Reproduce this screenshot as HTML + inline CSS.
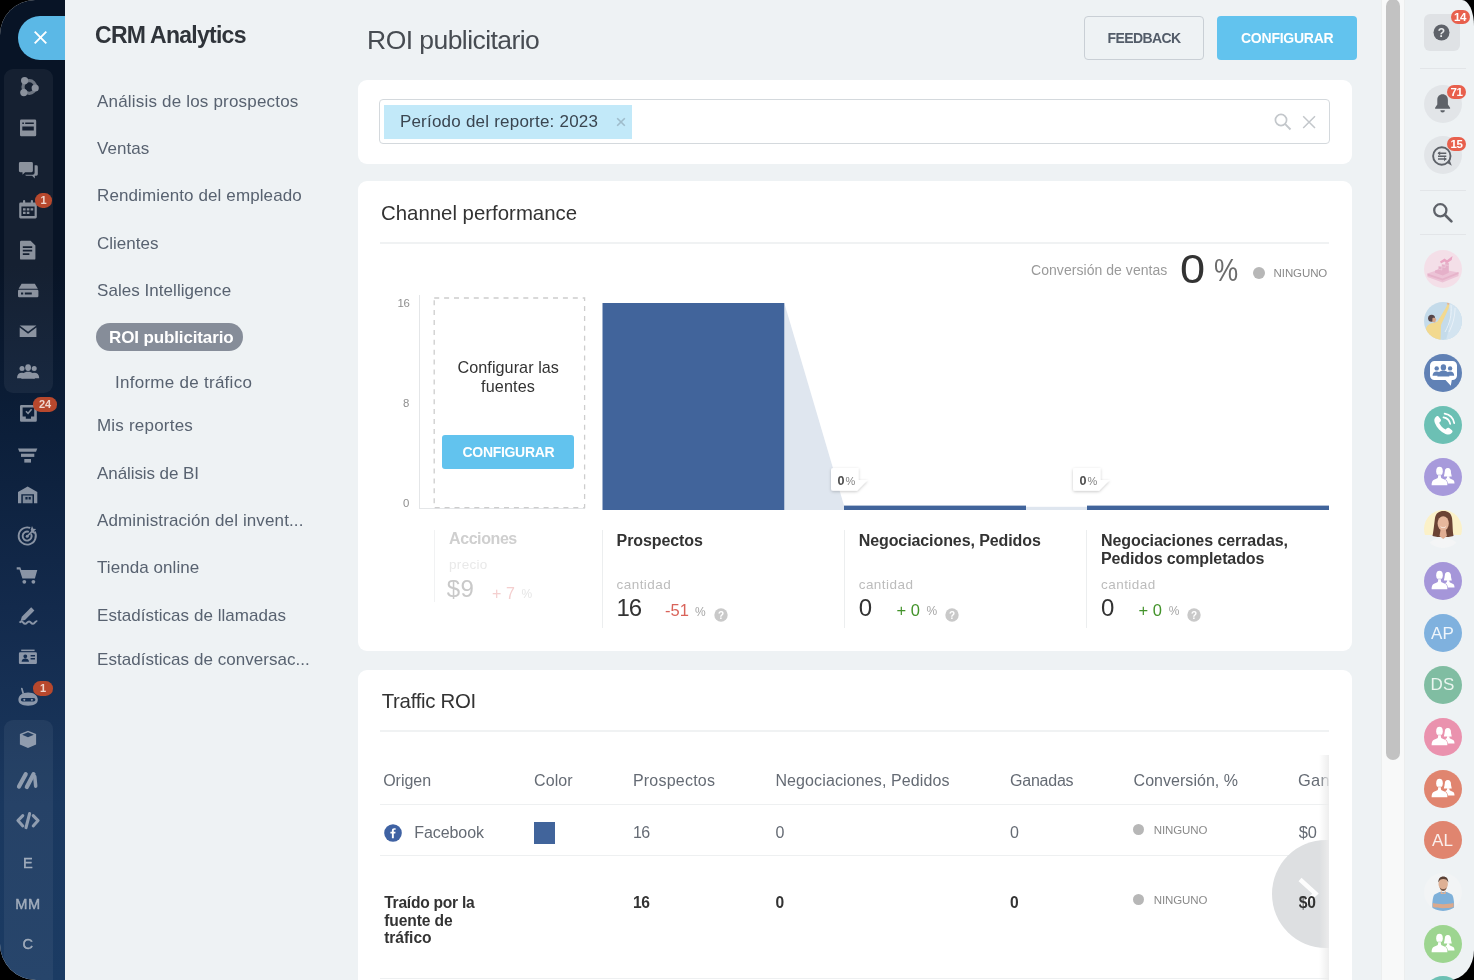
<!DOCTYPE html>
<html lang="es">
<head>
<meta charset="utf-8">
<title>CRM Analytics - ROI publicitario</title>
<style>
*{box-sizing:border-box;margin:0;padding:0}
html,body{width:1474px;height:980px;overflow:hidden;background:#000;font-family:"Liberation Sans",sans-serif;}
#app{position:absolute;left:0;top:0;width:1474px;height:980px;overflow:hidden;background:#eef2f4;will-change:transform;border-radius:35px 12px 25px 36px / 35px 26px 30px 36px;}
.abs{position:absolute}
.t{position:absolute;white-space:nowrap;line-height:1;}
#side{position:absolute;left:0;top:0;width:65px;height:980px;background:linear-gradient(180deg,#081426 0%,#081426 27%,#0c1f3a 44.5%,#132a4c 62%,#1a385f 82%,#1b3b63 100%);}
.grp{position:absolute;background:rgba(255,255,255,.055);border-radius:9px;}
.ico{position:absolute;fill:#8f949d;}
.badge{position:absolute;background:#b7482d;color:#efd6ce;font-weight:bold;font-size:11px;line-height:14.600px;height:14.600px;border-radius:7.300px;text-align:center;}
.panel{position:absolute;background:#fff;border-radius:9px;}
.hr{position:absolute;height:2px;background:#f0f2f3;}
.vr{position:absolute;width:1px;background:#eceeef;}
.av{position:absolute;width:38px;height:38px;border-radius:50%;overflow:hidden;}
.rb{position:absolute;background:#e8604d;color:#fff;font-weight:bold;font-size:11.500px;letter-spacing:-.3px;line-height:14px;height:14px;border-radius:7px;text-align:center;}
</style>
</head>
<body>
<div id="app">
<div id="side">
<div class="grp" style="left:4px;top:68.5px;width:49px;height:324px;"></div>
<div class="grp" style="left:4px;top:719.5px;width:49px;height:300px;"></div>
<!-- close button -->
<div class="abs" style="left:18px;top:16px;width:47px;height:44px;background:#5bb8e6;border-radius:22px 0 0 22px;"></div>
<svg class="abs" style="left:32.900px;top:30.400px" width="15" height="15" viewBox="0 0 15 15"><path d="M1.700 1.700L13.300 13.300M13.300 1.700L1.700 13.300" stroke="#fff" stroke-width="1.900" fill="none"/></svg>
<svg class="abs" style="left:0;top:0;opacity:.66" width="65" height="980" viewBox="0 0 65 980" fill="#c8cdd6">
<!-- 1 collab -->
<g>
<circle cx="29.3" cy="87" r="6.3" fill="none" stroke="#c8cdd6" stroke-width="3.2" opacity=".75"/>
<circle cx="24.6" cy="80.6" r="3.6"/><circle cx="35.2" cy="88" r="3.6"/><circle cx="23.8" cy="92.6" r="3.6"/>
</g>
<!-- 2 feed -->
<path d="M21.3 119.6h13.6a1.3 1.3 0 0 1 1.3 1.3v14a1.3 1.3 0 0 1-1.3 1.3H21.3a1.3 1.3 0 0 1-1.3-1.3v-14a1.3 1.3 0 0 1 1.3-1.3zM22.300 122.400v1.500h1.600v-1.500zM25.200 122.400v1.500h8.600v-1.500zM22.300 126.400v4.200h11.500v-4.200z" fill-rule="evenodd"/>
<!-- 3 chat -->
<path d="M20.3 162h11.2a1.4 1.4 0 0 1 1.4 1.4v7.4a1.4 1.4 0 0 1-1.4 1.4h-6.4l-2.6 2.6v-2.6h-2.2a1.4 1.4 0 0 1-1.4-1.4v-7.4a1.4 1.4 0 0 1 1.4-1.4z"/>
<path d="M34.6 165.3h1.8a1.4 1.4 0 0 1 1.4 1.4v7.6a1.4 1.4 0 0 1-1.4 1.4h-1.6v2.7l-2.7-2.7h-5.6a1.4 1.4 0 0 1-1.3-1h7.4a2 2 0 0 0 2-2z"/>
<!-- 4 calendar -->
<path d="M20.6 202.6h14.8a1.4 1.4 0 0 1 1.4 1.4v13a1.4 1.4 0 0 1-1.4 1.4H20.6a1.4 1.4 0 0 1-1.4-1.4v-13a1.4 1.4 0 0 1 1.4-1.4zM21.4 206.6v9.4h13.2v-9.4zM23 208.3h2.6v2.2H23zM26.8 208.3h2.6v2.2h-2.6zM30.6 208.3h2.6v2.2h-2.6zM23 211.8h2.6v2.2H23zM26.8 211.8h2.6v2.2h-2.6z" fill-rule="evenodd"/>
<rect x="23" y="200" width="2.2" height="4" rx="1"/><rect x="30.8" y="200" width="2.2" height="4" rx="1"/>
<!-- 5 doc -->
<path d="M21.2 240.8h9.4l4.8 4.8v12.8a1.2 1.2 0 0 1-1.2 1.2h-13a1.2 1.2 0 0 1-1.2-1.2v-16.4a1.2 1.2 0 0 1 1.2-1.2zM22.8 246.2v1.9h9.4v-1.9zM22.8 249.7v1.9h9.4v-1.9zM22.8 253.2v1.9h6.6v-1.9z" fill-rule="evenodd"/>
<!-- 6 drive -->
<path d="M21.6 283.8h13.2l3 5H18.6z"/>
<path d="M19.2 289.8h18a1.2 1.2 0 0 1 1.2 1.2v5a1.2 1.2 0 0 1-1.2 1.2h-18a1.2 1.2 0 0 1-1.2-1.2v-5a1.2 1.2 0 0 1 1.2-1.2zM21 292.5v2h2.2v-2zM24.8 292.5v2h7v-2z" fill-rule="evenodd"/>
<!-- 7 mail -->
<path d="M19.7 325.6h16.7l-8.35 6.2z"/><path d="M19.7 327.6l8.35 6.2 8.35-6.2v9.4H19.7z"/>
<!-- 8 group -->
<g>
<circle cx="22" cy="368.6" r="2.5"/><path d="M17 378.2c0-3.6 2-5.4 5-5.4 1.2 0 2.2.3 3 .9l-1.6 4.5z"/>
<circle cx="34.2" cy="368.6" r="2.5"/><path d="M39.2 378.2c0-3.6-2-5.4-5-5.4-1.2 0-2.2.3-3 .9l1.6 4.5z"/>
<ellipse cx="28.1" cy="367.6" rx="2.9" ry="3.4"/><path d="M21.3 378.8c.2-4.8 2.6-7 6.8-7s6.600 2.200 6.800 7z"/>
</g>
<!-- 9 tasks -->
<path d="M21.2 405h14.400a1.200 1.200 0 0 1 1.200 1.200v14.400a1.200 1.200 0 0 1-1.200 1.200H21.200a1.200 1.200 0 0 1-1.200-1.200v-14.400a1.200 1.200 0 0 1 1.200-1.200zM22.600 407.600v8.800h3.200v2.400h5.200v-2.400h3.200v-8.800zM25.400 411.800l1.100-1.100 1.500 1.500 3-3.400 1.200 1-4.100 4.700z" fill-rule="evenodd"/>
<!-- 10 funnel -->
<path d="M18 448.400h19.300l-1.300 3.300H19.300z"/><rect x="21" y="453.700" width="13.300" height="3.200"/><rect x="24.300" y="459" width="6.700" height="3.600"/>
<!-- 11 warehouse -->
<path d="M27.650 486.500l9.650 5.500v11.200h-3.300v-9h-12.700v9h-3.300v-11.200z"/>
<path d="M22.800 495.600h9.700v7.600h-9.700zM25.400 497v2.600h2.200v-2.600zM28.600 497v2.600h2.200v-2.600z" fill-rule="evenodd" opacity=".9"/>
<!-- 12 target -->
<g fill="none" stroke="#c8cdd6" stroke-width="1.900">
<path d="M34.600 531.500a8.600 8.600 0 1 1-4.400-3.600"/><path d="M31 533.800a4.500 4.500 0 1 1-2.200-1.900"/><path d="M27.200 536.200l5.600-5.600" stroke-width="1.600"/>
</g>
<path d="M32 526l1.300 2.700 2.900.4-2.100 2 .5 2.900-2.600-1.400-1.300-2.800z" />
<circle cx="27.200" cy="536.300" r="1.500"/>
<!-- 13 cart -->
<path d="M16.700 567.200h3.600l1 2.800h16l-2.400 8.600H22.400l-2.900-9.200h-2.800z"/><circle cx="24.300" cy="581.800" r="1.900"/><circle cx="33.400" cy="581.800" r="1.900"/>
<!-- 14 sign -->
<path d="M31.200 607.300l3.200 3.200-9.400 9.400-4.400 1.200 1.200-4.400z"/>
<path d="M19.500 622.600c1.500-1.600 2.600-1.600 3.800 0s2.400 1.600 3.800 0 2.600-1.600 3.800 0 2.400 1.600 3.800 0 2-1.400 2.400-1" fill="none" stroke="#c8cdd6" stroke-width="2"/>
<!-- 15 card -->
<rect x="21.200" y="649.600" width="13.400" height="1.500"/>
<path d="M20.100 652.200h15.600a1.200 1.200 0 0 1 1.200 1.200v9.400a1.200 1.200 0 0 1-1.200 1.200H20.100a1.200 1.200 0 0 1-1.200-1.200v-9.400a1.200 1.200 0 0 1 1.200-1.200zM25.300 654.400a1.900 1.900 0 1 0 .01 0zM21.600 661.800c.2-2.400 1.500-3.300 3.700-3.300s3.500.9 3.700 3.300zM30.600 655v1.600h4.400v-1.600zM30.600 658v1.600h4.400v-1.600z" fill-rule="evenodd"/>
<!-- 16 robot -->
<path d="M28.100 692.400c5.600 0 9.700 2.800 9.700 7.200 0 4-3.200 6.100-9.700 6.100s-9.700-2.100-9.700-6.100c0-4.400 4.100-7.200 9.700-7.200zM22.600 698a1.300 1.300 0 0 0 0 3.600h11a1.300 1.300 0 0 0 0-3.600zM24.300 698.800a1 1 0 1 1-.01 0zM31.900 698.800a1 1 0 1 1-.01 0z" fill-rule="evenodd"/>
<path d="M21.800 688.600l1.300 4.400" stroke="#c8cdd6" stroke-width="1.700" stroke-linecap="round" fill="none"/>
<!-- 17 cube -->
<path d="M28 730.800l8.100 3.300v10.400l-8.100 3.500-8.100-3.500v-10.400zM28 732.300l-5.900 2.400 5.900 2.500 5.900-2.500z" fill-rule="evenodd"/>
<!-- 18 // -->
<path d="M19 786.600l6.700-12.400M26.800 787l6.700-12.800" fill="none" stroke="#c8cdd6" stroke-width="4.200" stroke-linecap="round"/><path d="M34.800 776.600l.9 9.600" fill="none" stroke="#c8cdd6" stroke-width="3.500" stroke-linecap="round"/>
<!-- 19 code -->
<path d="M22.800 815.600l-4.900 5 4.900 5.300M33.200 815.600l4.900 5-4.900 5.300" fill="none" stroke="#c8cdd6" stroke-width="3" stroke-linecap="round" stroke-linejoin="round"/><path d="M29.600 813.600l-3.600 14" fill="none" stroke="#c8cdd6" stroke-width="3.100" stroke-linecap="round"/>
</svg>
<span class="t" style="left:23px;top:855.700px;font-size:14.600px;color:rgba(200,205,214,.7);-webkit-text-stroke:.4px rgba(200,205,214,.7);">E</span>
<span class="t" style="left:15.200px;top:896.600px;font-size:14.600px;color:rgba(200,205,214,.7);-webkit-text-stroke:.4px rgba(200,205,214,.7);letter-spacing:.6px">MM</span>
<span class="t" style="left:22.600px;top:936.900px;font-size:14.600px;color:rgba(200,205,214,.7);-webkit-text-stroke:.4px rgba(200,205,214,.7);">C</span>
<div class="badge" style="left:34.800px;top:193px;width:17.400px;">1</div>
<div class="badge" style="left:33px;top:397.200px;width:24px;">24</div>
<div class="badge" style="left:33.300px;top:681px;width:19.500px;">1</div>
</div>


<!-- header buttons -->
<div class="abs" style="left:1084px;top:16px;width:120px;height:44px;border:1px solid #c9cfd5;border-radius:4px;"></div>
<div class="abs" style="left:1217px;top:16px;width:140px;height:44px;background:#62c3ee;border-radius:4px;"></div>
<!-- filter panel -->
<div class="panel" style="left:358px;top:79.5px;width:994px;height:84px;"></div>
<div class="abs" style="left:379px;top:99px;width:951px;height:45px;border:1px solid #d4d9dd;border-radius:4px;"></div>
<div class="abs" style="left:384.4px;top:104.5px;width:247.5px;height:34.5px;background:#c2e9f9;"></div>
<!-- chart panel -->
<div class="panel" style="left:358px;top:180.5px;width:994px;height:470.5px;"></div>
<div class="hr" style="left:380px;top:241.5px;width:949px;"></div>
<!-- traffic panel -->
<div class="panel" style="left:358px;top:669.5px;width:994px;height:330px;"></div>
<div class="hr" style="left:380px;top:730px;width:949px;"></div>
<!-- scrollbar -->
<div class="abs" style="left:1381px;top:0;width:24px;height:980px;background:#f8f9f9;border-left:1px solid #eceeee;border-right:1px solid #eceeee;"></div>
<div class="abs" style="left:1386px;top:-1px;width:13.600px;height:761px;background:#c2c2c2;border-radius:7px;"></div>
<!-- menu pill -->
<div class="abs" style="left:96px;top:323.200px;width:147px;height:28px;border-radius:14px;background:#868d99;"></div>
<!-- filter icons -->
<svg class="abs" style="left:614.500px;top:116px" width="12" height="12" viewBox="0 0 12 12"><path d="M2.200 2.200l7.600 7.600M9.800 2.200l-7.600 7.600" stroke="#9fbccb" stroke-width="1.600" fill="none"/></svg>
<svg class="abs" style="left:1272px;top:111px" width="22" height="22" viewBox="0 0 22 22"><circle cx="9" cy="9" r="5.600" fill="none" stroke="#c3c7cb" stroke-width="1.700"/><path d="M13.200 13.200l5.300 5.300" stroke="#c3c7cb" stroke-width="1.900" fill="none"/></svg>
<svg class="abs" style="left:1300px;top:113px" width="18" height="18" viewBox="0 0 18 18"><path d="M3.200 3.200l11.800 11.800M15 3.200l-11.800 11.800" stroke="#c3c7cb" stroke-width="1.500" fill="none"/></svg>
<!-- chart -->
<div class="abs" style="left:419px;top:295px;width:1px;height:214px;background:#e4e6e8;"></div>
<div class="abs" style="left:419px;top:508px;width:166px;height:1px;background:#e4e6e8;"></div>
<svg class="abs" style="left:430px;top:294px" width="160" height="218" viewBox="430 294 160 218"><rect x="434.200" y="298" width="150.400" height="209.600" fill="none" stroke="#cdcdcd" stroke-width="1.300" stroke-dasharray="5 4.900"/></svg>
<div class="abs" style="left:442px;top:435px;width:132px;height:34px;background:#62c3ee;border-radius:3px;"></div>
<svg class="abs" style="left:600px;top:300px" width="732" height="212" viewBox="600 300 732 212">
<path d="M784.300 303L844 505.600V510H784.300z" fill="#dfe6ef"/>
<rect x="602.500" y="303" width="181.800" height="207" fill="#41649b"/>
<rect x="844" y="505.600" width="182" height="4.400" fill="#41649b"/>
<rect x="1026" y="506.800" width="61" height="3.200" fill="#dfe6ef"/>
<rect x="1087" y="505.600" width="242" height="4.400" fill="#41649b"/>
</svg>
<!-- 0% labels -->
<svg class="abs" style="left:822px;top:460px;overflow:visible" width="60" height="40" viewBox="822 460 60 40"><defs><filter id="sh" x="-30%" y="-30%" width="160%" height="170%"><feDropShadow dx="0" dy="1" stdDeviation="1.600" flood-color="#000" flood-opacity=".22"/></filter></defs><path d="M833 468h25.500v12h9l-10.500 10.800h-24a2 2 0 0 1-2-2v-18.800a2 2 0 0 1 2-2z" fill="#fff" filter="url(#sh)"/></svg>
<svg class="abs" style="left:1064px;top:460px;overflow:visible" width="60" height="40" viewBox="1064 460 60 40"><path d="M1075 468h25.500v12h9l-10.500 10.800h-24a2 2 0 0 1-2-2v-18.800a2 2 0 0 1 2-2z" fill="#fff" filter="url(#sh)"/></svg>
<!-- conversion dot -->
<div class="abs" style="left:1252.700px;top:266.800px;width:12px;height:12px;border-radius:50%;background:#b7b7b7;"></div>
<!-- metric dividers -->
<div class="vr" style="left:433.500px;top:530px;height:72px;background:#f1f2f3"></div>
<div class="vr" style="left:601.500px;top:530px;height:97.500px;"></div>
<div class="vr" style="left:843.700px;top:530px;height:97.500px;"></div>
<div class="vr" style="left:1086px;top:530px;height:97.500px;"></div>
<!-- help icons -->
<svg class="abs" style="left:713.600px;top:608.200px" width="14" height="14" viewBox="0 0 14 14"><circle cx="7" cy="7" r="6.700" fill="#c9c9c9"/><text x="7" y="10.600" text-anchor="middle" font-family="Liberation Sans" font-weight="bold" font-size="10" fill="#fff">?</text></svg>
<svg class="abs" style="left:945px;top:608.200px" width="14" height="14" viewBox="0 0 14 14"><circle cx="7" cy="7" r="6.700" fill="#c9c9c9"/><text x="7" y="10.600" text-anchor="middle" font-family="Liberation Sans" font-weight="bold" font-size="10" fill="#fff">?</text></svg>
<svg class="abs" style="left:1187px;top:608.200px" width="14" height="14" viewBox="0 0 14 14"><circle cx="7" cy="7" r="6.700" fill="#c9c9c9"/><text x="7" y="10.600" text-anchor="middle" font-family="Liberation Sans" font-weight="bold" font-size="10" fill="#fff">?</text></svg>
<!-- table -->
<div class="abs" style="left:380px;top:804px;width:949px;height:1px;background:#eef0f1;"></div>
<div class="abs" style="left:380px;top:854.500px;width:949px;height:1px;background:#eef0f1;"></div>
<div class="abs" style="left:380px;top:978px;width:949px;height:1px;background:#eef0f1;"></div>
<svg class="abs" style="left:383.800px;top:823.800px" width="18" height="18" viewBox="0 0 18 18"><circle cx="9" cy="9" r="8.800" fill="#3f62a3"/><path d="M9.800 14.200V9.600h1.500l.25-1.800H9.800V6.700c0-.5.150-.85.900-.85h.95V4.250c-.17-.02-.73-.07-1.400-.07-1.400 0-2.350.85-2.350 2.400V7.800H6.400v1.800h1.500v4.600z" fill="#fff"/></svg>
<div class="abs" style="left:534.100px;top:822.300px;width:21px;height:21.500px;background:#41649b;"></div>
<div class="abs" style="left:1133.400px;top:823.800px;width:11px;height:11px;border-radius:50%;background:#b7b7b7;"></div>
<div class="abs" style="left:1133.400px;top:894.400px;width:11px;height:11px;border-radius:50%;background:#b7b7b7;"></div>
<!-- scroll arrow circle -->
<div class="abs" style="left:1270px;top:835px;width:59px;height:118px;overflow:hidden;">
<div class="abs" style="left:2.400px;top:5.400px;width:108px;height:108px;border-radius:50%;background:#dddfe1;"></div>
</div>
<svg class="abs" style="left:1294px;top:875px" width="30" height="36" viewBox="0 0 30 36"><path d="M6 4.500l15.500 14L7 32" fill="none" stroke="#fff" stroke-width="4.400" opacity=".93"/></svg>
<!-- clipped last column -->
<div class="abs" style="left:1290px;top:755px;width:39px;height:225px;overflow:hidden;">
<span class="t" style="left:8px;top:17px;font-size:16.400px;color:#656b74;letter-spacing:.3px">Ganancia</span>
<span class="t" style="left:8.700px;top:69.200px;font-size:16.400px;color:#656b74;">$0</span>
<span class="t" style="left:8.700px;top:139.800px;font-size:15.600px;color:#333;font-weight:bold">$0</span>
<div class="abs" style="left:29px;top:0;width:10px;height:225px;background:linear-gradient(90deg,rgba(240,240,240,0),rgba(236,236,236,.92));"></div>
</div>

<span class="t" style="left:95.0px;top:24.03px;font-size:23.0px;color:#2f343a;font-weight:bold;letter-spacing:-0.73px;">CRM Analytics</span>
<span class="t" style="left:97.0px;top:93.02px;font-size:17.0px;color:#586270;letter-spacing:0.19px;">Análisis de los prospectos</span>
<span class="t" style="left:97.0px;top:140.02px;font-size:17.0px;color:#586270;letter-spacing:0.03px;">Ventas</span>
<span class="t" style="left:97.0px;top:187.02px;font-size:17.0px;color:#586270;letter-spacing:0.11px;">Rendimiento del empleado</span>
<span class="t" style="left:97.0px;top:235.02px;font-size:17.0px;color:#586270;">Clientes</span>
<span class="t" style="left:97.0px;top:282.02px;font-size:17.0px;color:#586270;letter-spacing:0.05px;">Sales Intelligence</span>
<span class="t" style="left:109.0px;top:329.02px;font-size:17.0px;color:#fff;font-weight:bold;letter-spacing:-0.13px;">ROI publicitario</span>
<span class="t" style="left:115.0px;top:374.02px;font-size:17.0px;color:#586270;letter-spacing:0.27px;">Informe de tráfico</span>
<span class="t" style="left:97.0px;top:417.02px;font-size:17.0px;color:#586270;letter-spacing:0.21px;">Mis reportes</span>
<span class="t" style="left:97.0px;top:465.02px;font-size:17.0px;color:#586270;letter-spacing:-0.08px;">Análisis de BI</span>
<span class="t" style="left:97.0px;top:512.02px;font-size:17.0px;color:#586270;letter-spacing:0.12px;">Administración del invent...</span>
<span class="t" style="left:97.0px;top:559.02px;font-size:17.0px;color:#586270;letter-spacing:0.07px;">Tienda online</span>
<span class="t" style="left:97.0px;top:607.02px;font-size:17.0px;color:#586270;letter-spacing:0.04px;">Estadísticas de llamadas</span>
<span class="t" style="left:97.0px;top:651.02px;font-size:17.0px;color:#586270;letter-spacing:0.04px;">Estadísticas de conversac...</span>
<span class="t" style="left:367.1px;top:27.03px;font-size:26.5px;color:#474c52;letter-spacing:-0.56px;">ROI publicitario</span>
<span class="t" style="left:1107.5px;top:31.03px;font-size:14.0px;color:#535c69;font-weight:bold;letter-spacing:-0.60px;">FEEDBACK</span>
<span class="t" style="left:1241.0px;top:31.03px;font-size:14.0px;color:#fff;font-weight:bold;letter-spacing:-0.24px;">CONFIGURAR</span>
<span class="t" style="left:399.9px;top:113.02px;font-size:17.0px;color:#3a4550;letter-spacing:0.22px;">Período del reporte: 2023</span>
<span class="t" style="left:381.0px;top:203.02px;font-size:20.4px;color:#333;">Channel performance</span>
<span class="t" style="left:1031.0px;top:263.03px;font-size:14.0px;color:#9a9a9a;letter-spacing:0.05px;">Conversión de ventas</span>
<span class="t" style="left:1180.3px;top:249.03px;font-size:41.0px;color:#333;transform:scaleX(1.1);transform-origin:0 0;">0</span>
<span class="t" style="left:1213.5px;top:254.02px;font-size:32.0px;color:#6c6c6c;transform:scaleX(.85);transform-origin:0 0;">%</span>
<span class="t" style="left:1273.6px;top:268.03px;font-size:11.5px;color:#8a8a8a;letter-spacing:-0.10px;">NINGUNO</span>
<span class="t" style="left:397.5px;top:298.03px;font-size:11.4px;color:#8f8f8f;letter-spacing:-0.44px;">16</span>
<span class="t" style="left:403.0px;top:398.03px;font-size:11.4px;color:#8f8f8f;">8</span>
<span class="t" style="left:403.0px;top:498.03px;font-size:11.4px;color:#8f8f8f;">0</span>
<span class="t" style="left:457.5px;top:359.03px;font-size:16.2px;color:#333;letter-spacing:0.05px;">Configurar las</span>
<span class="t" style="left:481.0px;top:378.03px;font-size:16.2px;color:#333;letter-spacing:0.13px;">fuentes</span>
<span class="t" style="left:462.5px;top:445.03px;font-size:14.0px;color:#fff;font-weight:bold;letter-spacing:-0.31px;">CONFIGURAR</span>
<span class="t" style="left:837.5px;top:475.03px;font-size:12.6px;color:#4d4d4d;font-weight:bold;">0</span>
<span class="t" style="left:845.6px;top:476.03px;font-size:11.0px;color:#858585;">%</span>
<span class="t" style="left:1079.5px;top:475.03px;font-size:12.6px;color:#4d4d4d;font-weight:bold;">0</span>
<span class="t" style="left:1087.6px;top:476.03px;font-size:11.0px;color:#858585;">%</span>
<span class="t" style="left:449.0px;top:531.03px;font-size:16.0px;color:#cfcfcf;font-weight:bold;letter-spacing:-0.41px;">Acciones</span>
<span class="t" style="left:449.0px;top:558.03px;font-size:13.5px;color:#e9e9e9;letter-spacing:0.32px;">precio</span>
<span class="t" style="left:446.7px;top:577.03px;font-size:24.0px;color:#c9c9c9;letter-spacing:0.55px;">$9</span>
<span class="t" style="left:492.1px;top:586.03px;font-size:16.0px;color:#f4cfcf;letter-spacing:0.07px;">+ 7</span>
<span class="t" style="left:521.5px;top:588.02px;font-size:12.0px;color:#e6e6e6;letter-spacing:-0.37px;">%</span>
<span class="t" style="left:616.6px;top:533.03px;font-size:16.0px;color:#333;font-weight:bold;letter-spacing:-0.09px;">Prospectos</span>
<span class="t" style="left:616.6px;top:578.03px;font-size:13.5px;color:#bcbcbc;letter-spacing:0.44px;">cantidad</span>
<span class="t" style="left:616.6px;top:596.03px;font-size:24.0px;color:#333;letter-spacing:-1.30px;">16</span>
<span class="t" style="left:665.1px;top:602.03px;font-size:16.5px;color:#d9635a;letter-spacing:-0.02px;">-51</span>
<span class="t" style="left:695.0px;top:606.02px;font-size:12.0px;color:#a6a6a6;letter-spacing:-0.17px;">%</span>
<span class="t" style="left:858.7px;top:533.03px;font-size:16.0px;color:#333;font-weight:bold;letter-spacing:-0.09px;">Negociaciones, Pedidos</span>
<span class="t" style="left:858.7px;top:578.03px;font-size:13.5px;color:#bcbcbc;letter-spacing:0.46px;">cantidad</span>
<span class="t" style="left:858.7px;top:596.03px;font-size:24.0px;color:#333;letter-spacing:0.44px;">0</span>
<span class="t" style="left:896.4px;top:602.03px;font-size:16.5px;color:#43932b;letter-spacing:0.06px;">+ 0</span>
<span class="t" style="left:926.4px;top:605.02px;font-size:12.0px;color:#a6a6a6;letter-spacing:-0.77px;">%</span>
<span class="t" style="left:1101.0px;top:533.03px;font-size:16.0px;color:#333;font-weight:bold;letter-spacing:-0.07px;">Negociaciones cerradas,</span>
<span class="t" style="left:1101.0px;top:551.03px;font-size:16.0px;color:#333;font-weight:bold;letter-spacing:-0.11px;">Pedidos completados</span>
<span class="t" style="left:1101.0px;top:578.03px;font-size:13.5px;color:#bcbcbc;letter-spacing:0.46px;">cantidad</span>
<span class="t" style="left:1101.0px;top:596.03px;font-size:24.0px;color:#333;letter-spacing:0.44px;">0</span>
<span class="t" style="left:1138.4px;top:602.03px;font-size:16.5px;color:#43932b;letter-spacing:0.06px;">+ 0</span>
<span class="t" style="left:1168.7px;top:605.02px;font-size:12.0px;color:#a6a6a6;letter-spacing:-0.77px;">%</span>
<span class="t" style="left:381.7px;top:691.02px;font-size:20.4px;color:#333;letter-spacing:-0.29px;">Traffic ROI</span>
<span class="t" style="left:383.2px;top:773.03px;font-size:16.0px;color:#656b74;letter-spacing:-0.02px;">Origen</span>
<span class="t" style="left:534.1px;top:773.03px;font-size:16.0px;color:#656b74;letter-spacing:0.05px;">Color</span>
<span class="t" style="left:632.9px;top:773.03px;font-size:16.0px;color:#656b74;letter-spacing:0.22px;">Prospectos</span>
<span class="t" style="left:775.4px;top:773.03px;font-size:16.0px;color:#656b74;letter-spacing:0.12px;">Negociaciones, Pedidos</span>
<span class="t" style="left:1010.1px;top:773.03px;font-size:16.0px;color:#656b74;letter-spacing:-0.25px;">Ganadas</span>
<span class="t" style="left:1133.6px;top:773.03px;font-size:16.0px;color:#656b74;letter-spacing:0.03px;">Conversión, %</span>
<span class="t" style="left:414.2px;top:825.03px;font-size:16.0px;color:#656b74;letter-spacing:-0.06px;">Facebook</span>
<span class="t" style="left:632.9px;top:825.03px;font-size:16.0px;color:#656b74;letter-spacing:-0.60px;">16</span>
<span class="t" style="left:775.4px;top:825.03px;font-size:16.0px;color:#656b74;">0</span>
<span class="t" style="left:1010.1px;top:825.03px;font-size:16.0px;color:#656b74;">0</span>
<span class="t" style="left:1153.7px;top:825.03px;font-size:11.5px;color:#8a8a8a;letter-spacing:-0.10px;">NINGUNO</span>
<span class="t" style="left:384.2px;top:895.03px;font-size:15.6px;color:#333;font-weight:bold;letter-spacing:-0.25px;">Traído por la</span>
<span class="t" style="left:384.2px;top:913.03px;font-size:15.6px;color:#333;font-weight:bold;letter-spacing:-0.11px;">fuente de</span>
<span class="t" style="left:384.2px;top:930.03px;font-size:15.6px;color:#333;font-weight:bold;letter-spacing:-0.05px;">tráfico</span>
<span class="t" style="left:632.9px;top:895.03px;font-size:15.6px;color:#333;font-weight:bold;letter-spacing:-0.38px;">16</span>
<span class="t" style="left:775.4px;top:895.03px;font-size:15.6px;color:#333;font-weight:bold;">0</span>
<span class="t" style="left:1010.1px;top:895.03px;font-size:15.6px;color:#333;font-weight:bold;">0</span>
<span class="t" style="left:1153.7px;top:895.03px;font-size:11.5px;color:#8a8a8a;letter-spacing:-0.10px;">NINGUNO</span>
<svg width="0" height="0" style="position:absolute"><defs>
<g id="grp2"><path d="M20.700 14.600c0-3.200 1.200-4.500 3.100-4.500s3.100 1.300 3.100 4.500l.9 3.900h-8z"/><ellipse cx="23.800" cy="14.300" rx="2.900" ry="3.800"/><path d="M21 25.600v-4.400l1.400-.7c.4-.2.600-.6.600-1v-1.300h2.400v1.300c0 .4.200.8.600 1l2.700 1.300c1.300.6 1.800 1.700 1.800 3.800z"/>
<g stroke="currentColor" stroke-width="1.100" paint-order="stroke"><ellipse cx="15.500" cy="13.200" rx="3.300" ry="4.400"/><path d="M7.600 27.200c0-3 .6-4.600 2.400-5.400l3.400-1.600c.5-.3.700-.8.700-1.400v-1.600h2.800v1.600c0 .6.200 1.100.7 1.400l3.400 1.600c1.800.8 2.400 2.400 2.400 5.400z"/></g></g>
</defs></svg>
<!-- help -->
<div class="abs" style="left:1423.500px;top:14px;width:36.500px;height:36.500px;border-radius:6px;background:#dfe2e5;"></div>
<svg class="abs" style="left:1433px;top:24px" width="17" height="17" viewBox="0 0 17 17"><circle cx="8.500" cy="8.500" r="8" fill="#5e6269"/><text x="8.500" y="12.700" text-anchor="middle" font-family="Liberation Sans" font-weight="bold" font-size="12" fill="#e6e8ea">?</text></svg>
<div class="rb" style="left:1450.500px;top:10.200px;width:19px;">14</div>
<div class="abs" style="left:1420px;top:68px;width:46px;height:1px;background:#e2e5e8;"></div>
<!-- bell -->
<div class="abs" style="left:1423.500px;top:85px;width:38px;height:38px;border-radius:50%;background:#e2e5e8;"></div>
<svg class="abs" style="left:1433px;top:93px" width="20" height="21" viewBox="0 0 20 21"><path d="M9.600 1.300c3.200 0 5.300 2.300 5.300 5.600v4.600l2.200 3.200v1H2.100v-1l2.200-3.200V6.900c0-3.300 2.100-5.600 5.300-5.600z" fill="#5e6269"/><path d="M7.300 17.200h4.600a2.300 2.300 0 0 1-4.600 0z" fill="#5e6269"/></svg>
<div class="rb" style="left:1446.800px;top:85.400px;width:19.500px;">71</div>
<!-- chat -->
<div class="abs" style="left:1423.500px;top:136.400px;width:38px;height:38px;border-radius:50%;background:#e2e5e8;"></div>
<svg class="abs" style="left:1430px;top:144px" width="24" height="24" viewBox="0 0 24 24"><circle cx="11.800" cy="12" r="8.700" fill="none" stroke="#5e6269" stroke-width="1.900"/><path d="M16.500 18.500l5.300 3.300-2.200-5.800z" fill="#5e6269"/><path d="M8 9.300h8.300M8 12.200h8.300M8 15.100h8.300" stroke="#5e6269" stroke-width="1.500" fill="none"/><path d="M10.200 7.200L7.500 9.300l2.700 2.100zM14 13l2.700 2.100L14 17.200z" fill="#5e6269"/></svg>
<div class="rb" style="left:1446.800px;top:137px;width:19.500px;">15</div>
<div class="abs" style="left:1420px;top:189.500px;width:46px;height:1px;background:#e2e5e8;"></div>
<!-- search -->
<svg class="abs" style="left:1430px;top:200px" width="26" height="26" viewBox="0 0 26 26"><circle cx="10.300" cy="10.300" r="6.100" fill="none" stroke="#5e6269" stroke-width="2.300"/><path d="M14.800 14.800l6.600 6.600" stroke="#5e6269" stroke-width="2.700" stroke-linecap="round" fill="none"/></svg>
<div class="abs" style="left:1420px;top:234px;width:46px;height:1px;background:#e2e5e8;"></div>
<!-- avatars -->
<div class="av" style="left:1423.600px;top:249.800px;background:#f4dfe8;"><svg width="38" height="38" viewBox="0 0 38 38"><path d="M3.500 23.500l13-4.500 18 3.500v3.500l-16 6.500-15-5.500z" fill="#ecc3d6"/><path d="M3.500 23.500l15 5 16-6.500v2l-16 6.500-15-5z" fill="#e6b3ca"/><path d="M11 20.500l3.500-1.300v-3l3.300.600v-2.600l3.400.600v-2.600l3.600.800v9.800l-6 2.600-7.800-2.600z" fill="#e5b0c9"/><path d="M14.500 19.200l3.300.800v-3.200l3.400.700v-2.700l3.600.800" stroke="#efc9da" stroke-width=".8" fill="none"/><path d="M16 11.500l4.500-3 2.500 1.800 5.500-4.300-.8 4-4.700 3.300-2.500-1.800-3.500 2z" fill="#e9a5c3"/></svg></div>
<div class="av" style="left:1423.600px;top:302.300px;background:#c4dbea;"><svg width="38" height="38" viewBox="0 0 38 38"><path d="M24 0c3 8 3 22-2 38h16V0z" fill="#d3e4f0"/><path d="M27 3c1 9-1 18-6 27M31 6c0 8-2 16-6 24" stroke="#eaf2f8" stroke-width=".9" fill="none"/><path d="M2 26c1.500-3.500 4.500-5 8-5l3.500-1.500L22 5.500l1.600-3.500 2 .6-1 3.800-7.600 16.600-.5 15h-15z" fill="#f2d98f"/><path d="M2 30l5 8H2z" fill="#eab07a"/><circle cx="7.600" cy="16.300" r="3.500" fill="#55464a"/><path d="M8.500 16c1.800-.8 3.200-.2 3.600 1.500l-.9 2.900-2.900-.4z" fill="#d6a58a"/><path d="M22.600 2l1.300-1.800 1.800 1-1 1.800z" fill="#e2b89a"/></svg></div>
<div class="av" style="left:1423.600px;top:354.400px;background:#6081b5;"><svg width="38" height="38" viewBox="0 0 38 38" fill="#6081b5"><path d="M10.500 7h18a4.500 4.500 0 0 1 4.500 4.500v10a4.500 4.500 0 0 1-4.500 4.500h-.7l-1 5.800-5.300-5.800H10.500A4.500 4.500 0 0 1 6 21.500v-10A4.500 4.500 0 0 1 10.500 7z" fill="#fff"/><circle cx="12.700" cy="14.400" r="2.200"/><path d="M8.600 21.800c0-3 1.600-4.400 4.100-4.400 1.100 0 2 .3 2.700.8l-1.300 3.600z"/><circle cx="26.100" cy="14.400" r="2.200"/><path d="M30.200 21.800c0-3-1.600-4.400-4.100-4.400-1.100 0-2 .3-2.700.8l1.300 3.600z"/><ellipse cx="19.400" cy="13.400" rx="2.700" ry="3.100"/><path d="M13.400 22.400c.2-4 2.300-5.700 6-5.700s5.800 1.700 6 5.700z"/></svg></div>
<div class="av" style="left:1423.600px;top:405.800px;background:#6cc0b4;"><svg width="38" height="38" viewBox="0 0 38 38"><path d="M11.500 11.200c1.200-1.300 2.200-1.600 3-.8l2.200 2.900c.6.900.3 1.800-.6 2.600l-1 .9c1.400 3 3.500 5.200 6.500 6.700l1-1c.8-.8 1.700-1 2.600-.4l2.800 2.100c.9.800.7 1.900-.6 3.100-1.500 1.500-3.400 1.600-5.900.6-5-2.100-8.600-5.800-10.600-10.900-.9-2.400-.8-4.300.6-5.800z" fill="#fff"/><path d="M19.500 11.300c3.600.6 6 3 6.700 6.600M20.600 7.600c5.300.9 8.800 4.400 9.600 9.600" fill="none" stroke="#fff" stroke-width="1.700" stroke-linecap="round"/></svg></div>
<div class="av" style="left:1423.600px;top:458px;background:#a79adb;"><svg width="38" height="38" viewBox="0 0 38 38" fill="#fff" style="color:#a79adb"><use href="#grp2"/></svg></div>
<div class="av" style="left:1423.600px;top:509.800px;background:#eef2f4;"><svg width="38" height="38" viewBox="0 0 38 38"><path d="M0 0h38v25H0z" fill="#fbf1c8"/><path d="M4 38c1-7 5-9.500 15-9.500S33 31 34 38z" fill="#f4f5f6"/><path d="M11 8c1-5 4-7 8.500-7s7.500 2 8.500 7c.8 6 .5 13 1.500 18l-5 1H13.500l-5-1c1-5 1.700-12 2.500-18z" fill="#6b4334"/><ellipse cx="19.200" cy="13.500" rx="5.600" ry="7.300" fill="#e6b79c"/><path d="M15.500 26l3.700 3 3.700-3-1-6h-5.400z" fill="#e0ad92"/><path d="M16.300 16.300c1.800 1.500 4 1.500 5.800 0-.6 2.200-5.200 2.200-5.800 0z" fill="#fff"/></svg></div>
<div class="av" style="left:1423.600px;top:561.600px;background:#a596d9;"><svg width="38" height="38" viewBox="0 0 38 38" fill="#fff" style="color:#a596d9"><use href="#grp2"/></svg></div>
<div class="av" style="left:1423.600px;top:613.700px;background:#7fb1de;"></div>
<div class="av" style="left:1423.600px;top:665.600px;background:#80bda2;"></div>
<div class="av" style="left:1423.600px;top:717.500px;background:#ea92ae;"><svg width="38" height="38" viewBox="0 0 38 38" fill="#fff" style="color:#ea92ae"><use href="#grp2"/></svg></div>
<div class="av" style="left:1423.600px;top:769.600px;background:#e0856f;"><svg width="38" height="38" viewBox="0 0 38 38" fill="#fff" style="color:#e0856f"><use href="#grp2"/></svg></div>
<div class="av" style="left:1423.600px;top:821.300px;background:#e0856f;"></div>
<div class="av" style="left:1423.600px;top:873px;background:#f2f4f5;"><svg width="38" height="38" viewBox="0 0 38 38"><path d="M8.500 38c-.5-8 0-14 2-16.500l5-2.500h7.400l5 2.500c2 2.500 2.500 8.500 2 16.500z" fill="#7eb0d9"/><path d="M8.800 30c5 1.500 15.600 1.500 20.800 0v4c-5 1.600-15.800 1.600-20.800 0z" fill="#dba98c"/><ellipse cx="19.200" cy="11" rx="4.700" ry="6" fill="#deb094"/><path d="M14.300 9.500c0-4 2-6 5-6s5 2 5 6c-1-2.500-2.600-3.500-5-3.500s-4 1-5 3.500z" fill="#5a4034"/><path d="M15.500 13.500c.5 3 2 4.500 3.700 4.500s3.200-1.500 3.700-4.500c-.5 1.800-2 2.600-3.700 2.600s-3.200-.8-3.700-2.600z" fill="#7a5a48"/><path d="M16.700 17.500l2.500 3 2.500-3v3.500h-5z" fill="#deb094"/></svg></div>
<div class="av" style="left:1423.600px;top:924.500px;background:#9dd590;"><svg width="38" height="38" viewBox="0 0 38 38" fill="#fff" style="color:#9dd590"><use href="#grp2"/></svg></div>
<div class="av" style="left:1423.600px;top:976px;background:#6cc0b4;"></div>
<span class="t" style="left:1430.600px;top:624.500px;font-size:17px;color:#eef5fb;width:24px;text-align:center;letter-spacing:.2px">AP</span>
<span class="t" style="left:1430.600px;top:676.400px;font-size:17px;color:#eaf5ef;width:24px;text-align:center;letter-spacing:.2px">DS</span>
<span class="t" style="left:1430.600px;top:832.100px;font-size:17px;color:#fbefec;width:24px;text-align:center;letter-spacing:.2px">AL</span>

</div>
</body>
</html>
